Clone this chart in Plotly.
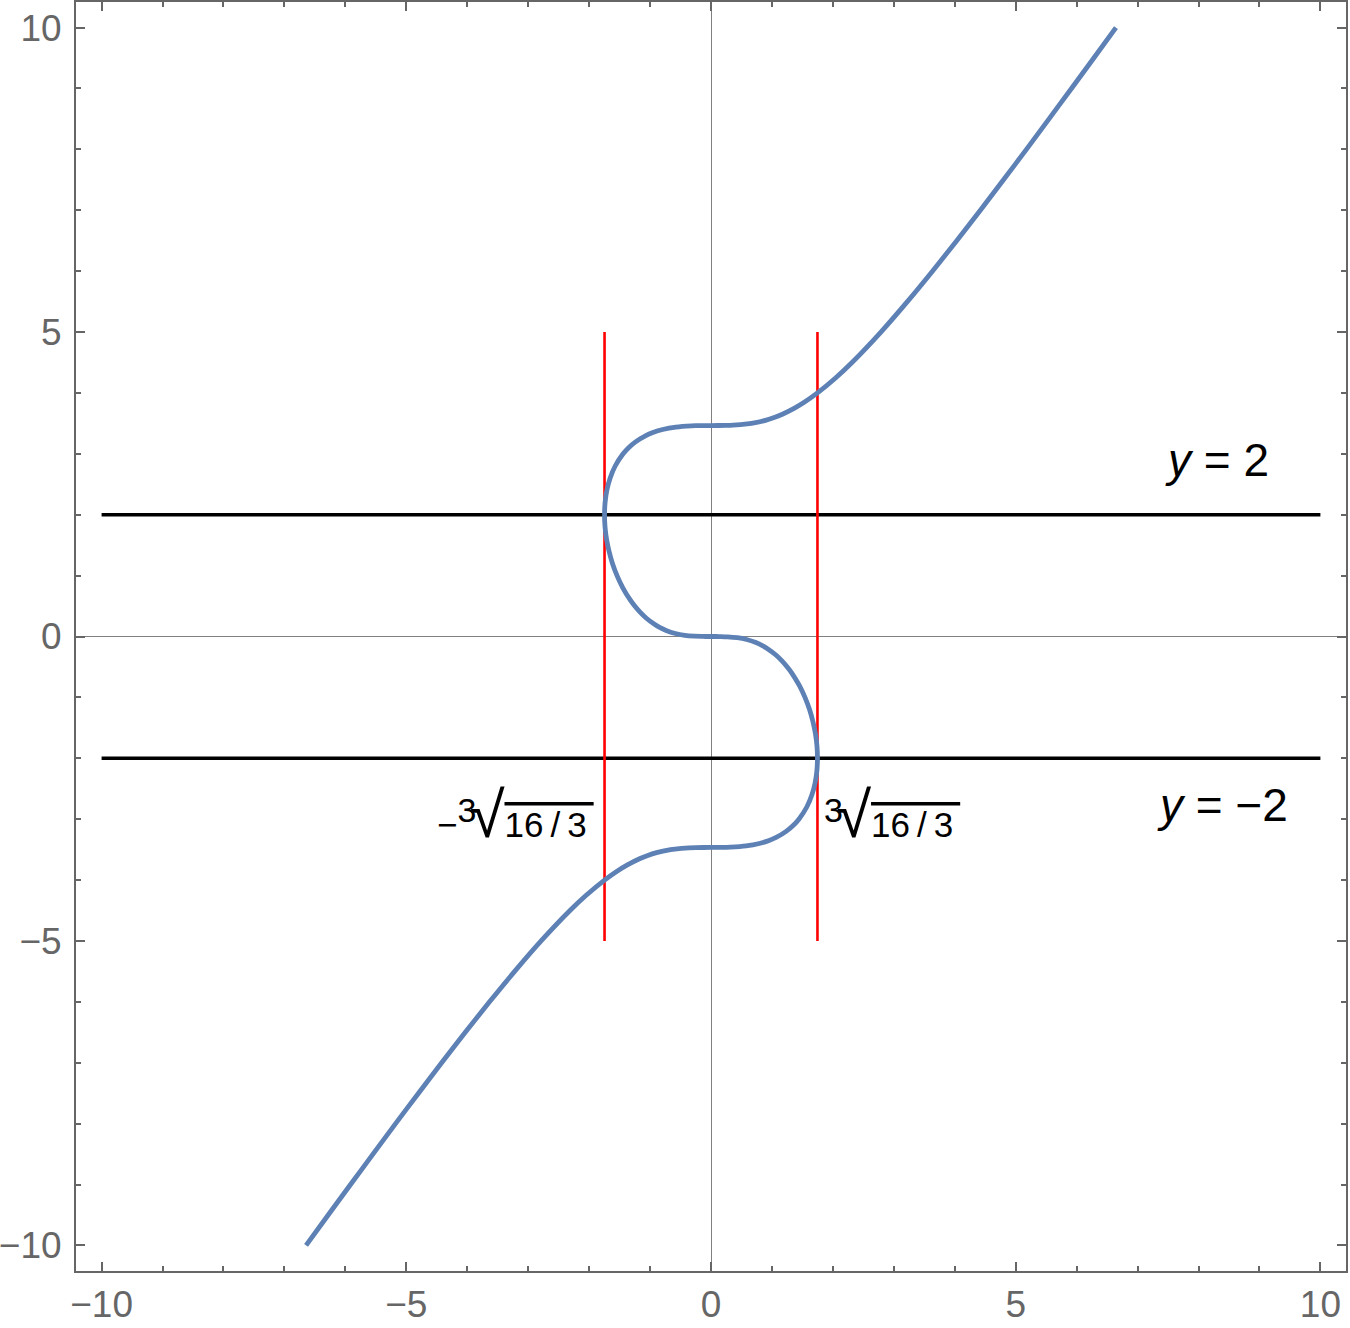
import plotly.graph_objects as go

# Curve points: y values and the matching x values
curve_y = [-10, -9.5, -9, -8.5, -8, -7.5, -7, -6.5, -6, -5.5, -5, -4.5, -4.25, -4,
           -3.85, -3.75, -3.65, -3.6, -3.55, -3.5, -3.49, -3.47, -3.466, -3.4641,
           -3.462, -3.46, -3.44, -3.4, -3.35, -3.3, -3.2, -3.1, -3.0,
           -2.8, -2.6, -2.4, -2.2, -2.0, -1.8, -1.6, -1.4, -1.2, -1.0, -0.8, -0.6,
           -0.5, -0.4, -0.3, -0.2, -0.15, -0.1, -0.05, -0.02, -0.005, -0.001, -0.0002,
           0,
           0.0002, 0.001, 0.005, 0.02, 0.05, 0.1, 0.15, 0.2, 0.3, 0.4, 0.5,
           0.6, 0.8, 1.0, 1.2, 1.4, 1.6, 1.8, 2.0, 2.2, 2.4, 2.6, 2.8,
           3.0, 3.1, 3.2, 3.3, 3.35, 3.4, 3.44, 3.46, 3.462,
           3.4641, 3.466, 3.47, 3.49, 3.5, 3.55, 3.6, 3.65, 3.75, 3.85,
           4, 4.25, 4.5, 5, 5.5, 6, 6.5, 7, 7.5, 8, 8.5, 9, 9.5, 10]
curve_x = [-6.645, -6.282, -5.915, -5.547, -5.176, -4.800, -4.420, -4.032, -3.634,
           -3.222, -2.788, -2.314, -2.048, -1.747,
           -1.536, -1.371, -1.172, -1.048, -0.893, -0.663, -0.594, -0.362, -0.248, 0.0,
           0.256, 0.320, 0.576, 0.793, 0.954, 1.069, 1.233, 1.352, 1.442,
           1.572, 1.656, 1.709, 1.738, 1.747, 1.739, 1.714, 1.673, 1.617, 1.542, 1.447, 1.326,
           1.251, 1.164, 1.060, 0.927, 0.843, 0.737, 0.585, 0.431, 0.271, 0.159, 0.093,
           0.0,
           -0.093, -0.159, -0.271, -0.431, -0.585, -0.737, -0.843, -0.927, -1.060, -1.164, -1.251,
           -1.326, -1.447, -1.542, -1.617, -1.673, -1.714, -1.739, -1.747, -1.738, -1.709, -1.656, -1.572,
           -1.442, -1.352, -1.233, -1.069, -0.954, -0.793, -0.576, -0.320, -0.256,
           0.0, 0.248, 0.362, 0.594, 0.663, 0.893, 1.048, 1.172, 1.371, 1.536,
           1.747, 2.048, 2.314, 2.788, 3.222, 3.634, 4.032, 4.420, 4.800, 5.176, 5.547, 5.915, 6.282, 6.645]

# Horizontal reference lines y = 2, y = -2
hline_levels = [2, -2]
hline_x = [-10, 10]
# Vertical red lines at x = -cbrt(16/3), cbrt(16/3)
vline_positions = [-1.747, 1.747]
vline_y = [-5, 5]

# Labels
label_texts = ["<i>y</i> = 2", "<i>y</i> = \u22122"]
label_x = [8.31, 8.39]
label_y = [2.9, -2.77]

RADICAND = ("<span style='font-size:50px;text-decoration:overline'>"
            "<span style='font-size:35px'>16\u2009/\u20093\u2009</span></span>")
INDEX = "<sup><span style='font-size:34px;letter-spacing:-7px'>3</span></sup>"
RADICAL = "<span style='font-size:64px'>\u221a</span>"
root_texts = ["\u2212" + INDEX + RADICAL + RADICAND,
              INDEX + RADICAL + RADICAND]
root_x = [-3.21, 2.97]
root_y = [-2.93, -2.93]

tick_vals = [-10, -5, 0, 5, 10]

fig = go.Figure()

for lvl in hline_levels:
    fig.add_trace(go.Scatter(x=hline_x, y=[lvl, lvl], mode="lines",
                             line=dict(color="black", width=3.6), hoverinfo="skip"))
for xv in vline_positions:
    fig.add_trace(go.Scatter(x=[xv, xv], y=vline_y, mode="lines",
                             line=dict(color="#ff0000", width=2.6), hoverinfo="skip"))

fig.add_trace(go.Scatter(x=curve_x, y=curve_y, mode="lines",
                         line=dict(color="#5E81B5", width=4.8, shape="spline", smoothing=0.6),
                         hoverinfo="skip"))

for t, xx, yy in zip(label_texts, label_x, label_y):
    fig.add_annotation(x=xx, y=yy, text=t, showarrow=False, xref="x", yref="y",
                       font=dict(family="Liberation Sans, Arial", size=46, color="black"))
for t, xx, yy in zip(root_texts, root_x, root_y):
    fig.add_annotation(x=xx, y=yy, text=t, showarrow=False, xref="x", yref="y",
                       font=dict(family="Liberation Sans, Arial", size=35, color="black"))

axis_common = dict(
    range=[-10.42, 10.42], tickvals=tick_vals, showgrid=False, automargin=False,
    zeroline=True, zerolinecolor="#808080", zerolinewidth=1,
    showline=True, mirror="ticks", linecolor="#666666", linewidth=2,
    ticks="inside", ticklen=9, tickwidth=2, tickcolor="#666666",
    minor=dict(ticks="inside", ticklen=5, tickwidth=1.5, tickcolor="#666666", dtick=1, showgrid=False),
    tickfont=dict(family="Liberation Sans, Arial", size=37, color="#666666"),
    fixedrange=True,
)

fig.update_xaxes(**axis_common, ticklabelstandoff=0)
fig.update_yaxes(**axis_common, ticklabelstandoff=5)

fig.update_layout(
    width=1350, height=1328,
    margin=dict(l=76, r=4, t=2, b=57),
    plot_bgcolor="white", paper_bgcolor="white",
    showlegend=False,
)

fig.write_html("out.html", config={"displayModeBar": False},
               post_script="document.body.style.margin='0';document.body.style.overflow='hidden';")
